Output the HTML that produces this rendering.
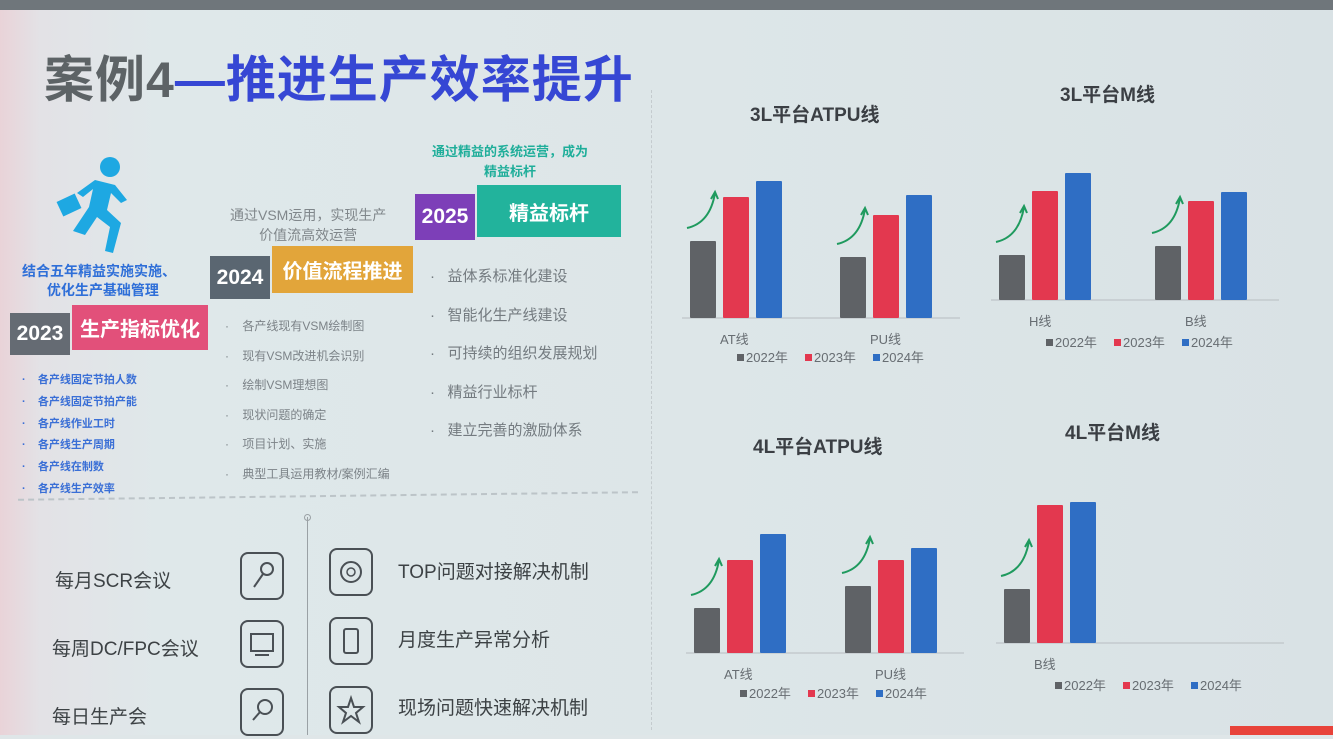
<!DOCTYPE html>
<html><head><meta charset="utf-8">
<style>
*{margin:0;padding:0;box-sizing:border-box}
body{width:1333px;height:735px;overflow:hidden;font-family:"Liberation Sans","Noto Sans CJK SC",sans-serif;background:#dfe6e8;position:relative}
.a{position:absolute;white-space:nowrap}
.bg{position:absolute;inset:0;background:linear-gradient(90deg,#e9d3d8 0px,#e3e2e6 40px,#dfe8ea 160px,#dde6e8 700px,#d9e2e5 1333px)}
.tag{position:absolute;color:#fff;font-weight:bold;display:flex;align-items:center;justify-content:center}
.li{color:#7c8388;font-size:12px}
.li2{color:#3a6fd6;font-size:11px;font-weight:bold}
.li3{color:#747b80;font-size:15px}
.bt{color:#3d4245;font-size:19px}
.ic{position:absolute;width:44px;height:48px;border:2px solid #4a5055;border-radius:8px}
.ct{color:#3b3f44;font-size:19px;font-weight:bold}
</style></head><body>
<div class="bg"></div>
<div class="a" style="left:0;top:0;width:1333px;height:10px;background:#6f767b"></div>

<div class="a" style="left:44px;top:40px;font-size:50px;font-weight:bold;letter-spacing:1px"><span style="color:#5d6366">案例4</span><span style="color:#3647d4">—推进生产效率提升</span></div>

<svg class="a" style="left:55px;top:155px" width="80" height="100" viewBox="0 0 80 100">
<circle cx="55" cy="12" r="10" fill="#1ea8e2"/>
<path d="M40 25 L60 30 L72 45 L66 48 L56 38 L52 55 L66 68 L58 98 L50 96 L55 72 L42 62 L30 80 L18 76 L34 52 L38 34 L28 42 L22 38 Z" fill="#1ea8e2"/>
<rect x="4" y="42" width="20" height="16" transform="rotate(-25 14 50)" fill="#1ea8e2"/>
</svg>

<div class="a" style="left:22px;top:262px;color:#2f6fd8;font-size:14px;font-weight:bold;text-align:center;line-height:19px">结合五年精益实施实施、<br>&nbsp;&nbsp;优化生产基础管理</div>
<div class="tag" style="left:10px;top:313px;width:60px;height:42px;background:#656b73;font-size:21px">2023</div>
<div class="tag" style="left:72px;top:305px;width:136px;height:45px;background:#e2507a;font-size:20px">生产指标优化</div>
<div class="a li2" style="left:22px;top:370px;line-height:21.8px">·&nbsp;&nbsp;&nbsp;&nbsp;各产线固定节拍人数<br>·&nbsp;&nbsp;&nbsp;&nbsp;各产线固定节拍产能<br>·&nbsp;&nbsp;&nbsp;&nbsp;各产线作业工时<br>·&nbsp;&nbsp;&nbsp;&nbsp;各产线生产周期<br>·&nbsp;&nbsp;&nbsp;&nbsp;各产线在制数<br>·&nbsp;&nbsp;&nbsp;&nbsp;各产线生产效率</div>

<div class="a" style="left:230px;top:205px;color:#80878b;font-size:14px;text-align:center;line-height:20px">通过VSM运用，实现生产<br>价值流高效运营</div>
<div class="tag" style="left:210px;top:256px;width:60px;height:43px;background:#5a6671;font-size:21px">2024</div>
<div class="tag" style="left:272px;top:246px;width:141px;height:47px;background:#e2a53a;font-size:20px">价值流程推进</div>
<div class="a li" style="left:225px;top:312px;line-height:29.5px">·&nbsp;&nbsp;&nbsp;&nbsp;各产线现有VSM绘制图<br>·&nbsp;&nbsp;&nbsp;&nbsp;现有VSM改进机会识别<br>·&nbsp;&nbsp;&nbsp;&nbsp;绘制VSM理想图<br>·&nbsp;&nbsp;&nbsp;&nbsp;现状问题的确定<br>·&nbsp;&nbsp;&nbsp;&nbsp;项目计划、实施<br>·&nbsp;&nbsp;&nbsp;&nbsp;典型工具运用教材/案例汇编</div>

<div class="a" style="left:432px;top:142px;color:#1fae9a;font-size:13px;text-align:center;line-height:20px;font-weight:bold">通过精益的系统运营，成为<br>精益标杆</div>
<div class="tag" style="left:415px;top:194px;width:60px;height:46px;background:#7d3fb8;font-size:21px">2025</div>
<div class="tag" style="left:477px;top:185px;width:144px;height:52px;background:#22b39c;font-size:20px">精益标杆</div>
<div class="a li3" style="left:430px;top:258px;line-height:38.5px">·&nbsp;&nbsp;&nbsp;益体系标准化建设<br>·&nbsp;&nbsp;&nbsp;智能化生产线建设<br>·&nbsp;&nbsp;&nbsp;可持续的组织发展规划<br>·&nbsp;&nbsp;&nbsp;精益行业标杆<br>·&nbsp;&nbsp;&nbsp;建立完善的激励体系</div>

<div class="a" style="left:18px;top:495px;width:620px;border-top:2px dashed #bcc4c8;transform:rotate(-0.7deg)"></div>
<div class="a" style="left:307px;top:517px;width:1px;height:218px;background:#9aa1a5"></div>
<div class="a" style="left:304px;top:514px;width:7px;height:7px;border-radius:50%;border:1px solid #9aa1a5"></div>
<div class="a" style="left:651px;top:90px;height:640px;border-left:1px dashed #c4cbce"></div>

<div class="a bt" style="left:55px;top:566px">每月SCR会议</div>
<div class="a bt" style="left:52px;top:634px">每周DC/FPC会议</div>
<div class="a bt" style="left:52px;top:702px">每日生产会</div>
<div class="ic" style="left:240px;top:552px"><svg width="40" height="44"><circle cx="25" cy="15" r="6" fill="none" stroke="#4a5055" stroke-width="2"/><line x1="21" y1="20" x2="12" y2="33" stroke="#4a5055" stroke-width="2"/></svg></div>
<div class="ic" style="left:240px;top:620px"><svg width="40" height="44"><rect x="9" y="12" width="22" height="17" fill="none" stroke="#4a5055" stroke-width="2"/><line x1="13" y1="33" x2="27" y2="33" stroke="#4a5055" stroke-width="2"/></svg></div>
<div class="ic" style="left:240px;top:688px"><svg width="40" height="44"><circle cx="23" cy="17" r="7" fill="none" stroke="#4a5055" stroke-width="2"/><line x1="18" y1="22" x2="11" y2="30" stroke="#4a5055" stroke-width="2"/></svg></div>
<div class="ic" style="left:329px;top:548px"><svg width="40" height="44"><circle cx="20" cy="22" r="10" fill="none" stroke="#4a5055" stroke-width="2"/><circle cx="20" cy="22" r="4" fill="none" stroke="#4a5055" stroke-width="1.5"/></svg></div>
<div class="ic" style="left:329px;top:617px"><svg width="40" height="44"><rect x="13" y="10" width="14" height="24" rx="2" fill="none" stroke="#4a5055" stroke-width="2"/></svg></div>
<div class="ic" style="left:329px;top:686px"><svg width="40" height="44"><polygon points="20,10 23,19 32,19 25,25 28,34 20,28 12,34 15,25 8,19 17,19" fill="none" stroke="#4a5055" stroke-width="2"/></svg></div>
<div class="a bt" style="left:398px;top:557px">TOP问题对接解决机制</div>
<div class="a bt" style="left:398px;top:625px">月度生产异常分析</div>
<div class="a bt" style="left:398px;top:693px">现场问题快速解决机制</div>

<div class="a ct" style="left:750px;top:100px">3L平台ATPU线</div>
<div class="a ct" style="left:1060px;top:80px">3L平台M线</div>
<div class="a ct" style="left:753px;top:432px">4L平台ATPU线</div>
<div class="a ct" style="left:1065px;top:418px">4L平台M线</div>

<svg id="charts" class="a" style="left:0;top:0" width="1333" height="735"></svg>

<div class="a" style="left:1230px;top:726px;width:103px;height:9px;background:#e8433a"></div>

<script>
// 3L ATPU
const c1Cats=["AT线","PU线"];
const c1V22=[77,61];
const c1V23=[121,103];
const c1V24=[137,123];
// 3L M
const c2Cats=["H线","B线"];
const c2V22=[45,54];
const c2V23=[109,99];
const c2V24=[127,108];
// 4L ATPU
const c3Cats=["AT线","PU线"];
const c3V22=[45,67];
const c3V23=[93,93];
const c3V24=[119,105];
// 4L M
const c4Cats=["B线"];
const c4V22=[54];
const c4V23=[138];
const c4V24=[141];
const years=["2022年","2023年","2024年"];
const colors=["#5f6266","#e3384f","#2f6ec4"];

const NS="http://www.w3.org/2000/svg";
const svg=document.getElementById('charts');
function mk(t,a){const e=document.createElementNS(NS,t);for(const k in a)e.setAttribute(k,a[k]);svg.appendChild(e);return e;}
function chart(id,cats,v22,v23,v24,x0,base,gap,axisW,legX,legY){
  const y=v=>base-v;
  const ax=mk('line',{x1:x0-8,y1:base,x2:x0+axisW,y2:base,stroke:'#c3cacd','stroke-width':1.5});
  
  
  const series=[v22,v23,v24];
  cats.forEach((c,i)=>{
    const gx=x0+i*gap;
    series.forEach((s,j)=>{
      const r=mk('rect',{x:gx+j*33,y:y(s[i]),width:26,height:s[i],fill:colors[j],rx:1});
      
      
    });
    const ty=y(v22[i])-18;
    const ar=mk('path',{d:`M${gx-3} ${ty+5} Q${gx+20} ${ty} ${gx+25} ${ty-30}`,fill:'none',stroke:'#1f9a5e','stroke-width':2});
    
    
    const ah=mk('path',{d:`M${gx+21} ${ty-24} L${gx+25} ${ty-31} L${gx+28} ${ty-24}`,fill:'none',stroke:'#1f9a5e','stroke-width':2});
    
    
    const t=mk('text',{x:gx+30,y:base+26,'font-size':13,fill:'#676d72','font-family':'Liberation Sans, Noto Sans CJK SC, sans-serif'});
    t.textContent=c;
    
    
  });
  years.forEach((yr,j)=>{
    const lx=legX+j*68;
    const sq=mk('rect',{x:lx,y:legY-8,width:7,height:7,fill:colors[j]});
    
    
    const lt=mk('text',{x:lx+9,y:legY,'font-size':13,fill:'#676d72','font-family':'Liberation Sans, Noto Sans CJK SC, sans-serif'});
    lt.textContent=yr;
    
    
  });
}
chart('chart-3l-atpu',c1Cats,c1V22,c1V23,c1V24,690,318,150,270,737,362);
chart('chart-3l-m',c2Cats,c2V22,c2V23,c2V24,999,300,156,280,1046,347);
chart('chart-4l-atpu',c3Cats,c3V22,c3V23,c3V24,694,653,151,270,740,698);
chart('chart-4l-m',c4Cats,c4V22,c4V23,c4V24,1004,643,156,280,1055,690);
</script>
</body></html>
